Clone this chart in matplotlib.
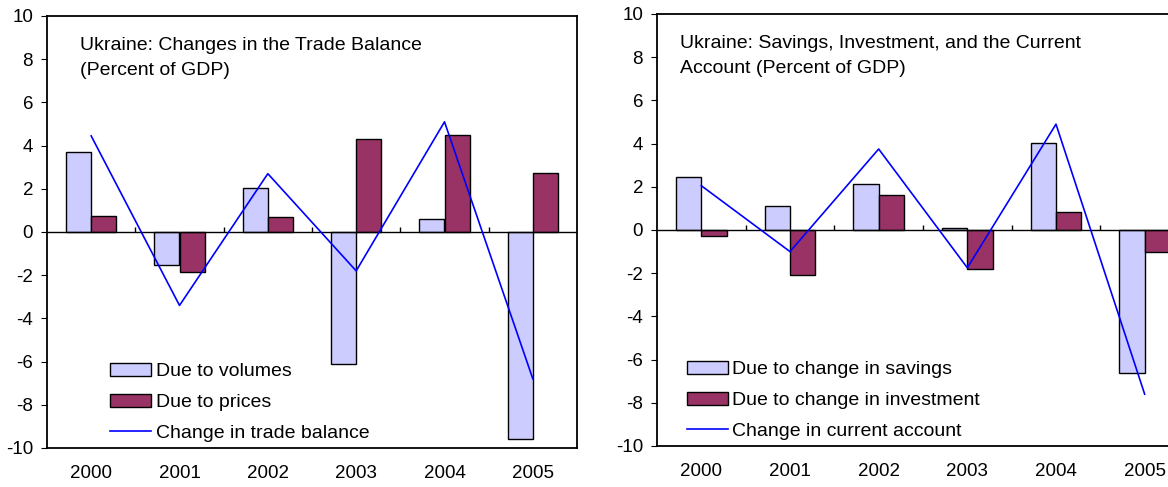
import numpy as np
import matplotlib
matplotlib.use("Agg")
from matplotlib import pyplot as plt

plt.rcParams['font.family'] = ['Liberation Sans', 'DejaVu Sans']
plt.rcParams['axes.unicode_minus'] = False

# dane
years = ["2000", "2001", "2002", "2003", "2004", "2005"]

# wykres 1: bilans handlowy
volumes = [3.7, -1.55, 2.05, -6.1, 0.6, -9.6]
prices = [0.75, -1.85, 0.7, 4.3, 4.5, 2.75]
trade_balance = [4.45, -3.4, 2.7, -1.8, 5.1, -6.8]

# wykres 2: oszczednosci, inwestycje
savings = [2.45, 1.1, 2.15, 0.1, 4.05, -6.6]
investment = [-0.3, -2.1, 1.6, -1.8, 0.85, -1.0]
current_account = [2.05, -1.0, 3.75, -1.75, 4.9, -7.6]

light = "#CCCCFF"
dark = "#993366"
blue = "#0000FF"
fs = 14

fig = plt.figure(figsize=(11.68, 4.87), dpi=100)
ax1 = fig.add_axes([47/1168, 39/487, 530/1168, 432/487])
ax2 = fig.add_axes([657/1168, 41/487, 532/1168, 432/487])


def draw(ax, a, b, line, labels, title, pos):
    x = np.arange(len(years))
    w = 0.285
    b1 = ax.bar(x - w/2, a, w, color=light, edgecolor="black", linewidth=1, zorder=2)
    b2 = ax.bar(x + w/2, b, w, color=dark, edgecolor="black", linewidth=1, zorder=2)
    l, = ax.plot(x, line, color=blue, linewidth=1.2, zorder=3)
    ax.axhline(0, color="black", linewidth=1, zorder=2.5)
    ax.vlines(np.arange(0.5, len(years) - 1), 0, 0.25, color="black", linewidth=1, zorder=2.5)
    ax.set_xlim(-0.5, len(years) - 0.5)
    ax.set_ylim(-10, 10)
    ax.set_yticks(range(-10, 11, 2))
    ax.set_xticks(x)
    ax.set_xticklabels(years)
    ax.tick_params(axis="x", length=0, pad=12, labelsize=13.5)
    ax.tick_params(axis="y", direction="out", length=4, pad=6, labelsize=13.5)
    for s in ax.spines.values():
        s.set_linewidth(1.3)
    ax.text(pos[0], 0.952, title, transform=ax.transAxes, va="top", ha="left",
            fontsize=fs, linespacing=1.6)
    ax.legend([b1, b2, l], labels, loc="lower left", bbox_to_anchor=(pos[1], 0.014),
              frameon=False, fontsize=fs, handlelength=2.1, handleheight=0.7,
              handletextpad=0.25, labelspacing=0.68, borderaxespad=0, borderpad=0)


draw(ax1, volumes, prices, trade_balance,
     ["Due to volumes", "Due to prices", "Change in trade balance"],
     "Ukraine: Changes in the Trade Balance\n(Percent of GDP)", (0.062, 0.119))
draw(ax2, savings, investment, current_account,
     ["Due to change in savings", "Due to change in investment", "Change in current account"],
     "Ukraine: Savings, Investment, and the Current\nAccount (Percent of GDP)", (0.043, 0.056))

plt.savefig("out.png", dpi=100)
plt.close()
